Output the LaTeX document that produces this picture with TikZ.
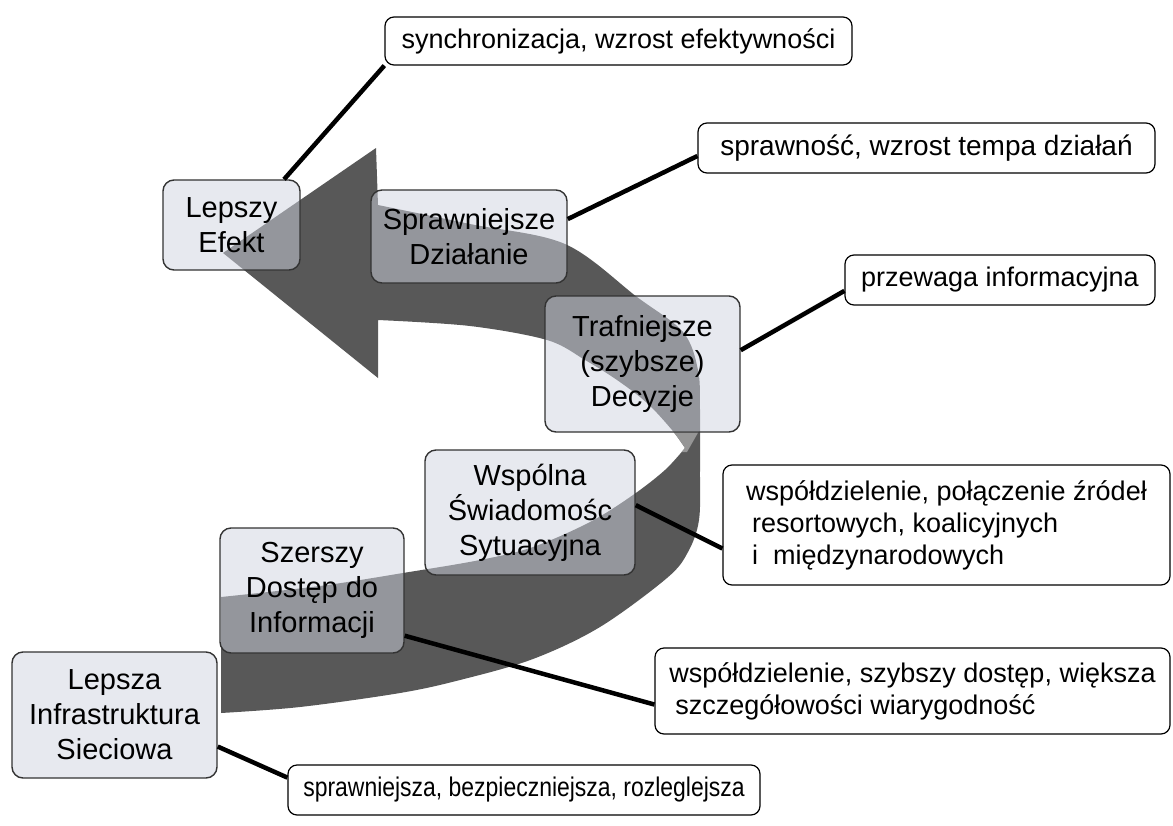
\documentclass[tikz,border=0pt]{standalone}
\usepackage{fontspec}
\setmainfont{Liberation Sans}
\newfontfamily\narrowsans[FakeStretch=0.85]{Liberation Sans}
\definecolor{bandgray}{RGB}{88,88,88}
\definecolor{facegray}{RGB}{150,150,150}
\definecolor{stagefill}{RGB}{209,213,225}
\newcommand\arrowoutline{(223,253) -- (376,148) -- (378,205)
  -- plot[smooth, tension=0.55] coordinates {(378,205) (470,224) (565,244) (637,297) (683,332) (698,370) (700,410) (700,470) (699,520) (688,552) (667,578) (600,627) (533,659) (460,680) (400,693) (300,707) (221,713)}
  -- (221,597)
  -- plot[smooth, tension=0.55] coordinates {(221,597) (320,586) (403,573) (480,560) (533,547) (590,522) (633,495) (665,470) (685,448)}
  -- plot[smooth, tension=0.55] coordinates {(685,448) (672,430) (647,403) (617,380) (585,360) (547,340) (470,326) (378,320)}
  -- (378,378) -- cycle}
\begin{document}
\begin{tikzpicture}[x=1pt, y=-1pt,
  stage/.style={draw=black!80, line width=1.4pt, rounded corners=11pt,
    fill=stagefill, fill opacity=0.5, text opacity=1, align=center,
    font=\fontsize{29}{35}\selectfont, inner sep=0pt},
  note/.style={draw=black, line width=1.2pt, rounded corners=9pt,
    fill=white, align=left, font=\fontsize{27}{32}\selectfont, inner sep=0pt},
  link/.style={line width=4.5pt, black}]
\useasboundingbox (0,0) rectangle (1173,825);
\fill[white] (0,0) rectangle (1173,825);

% curved ribbon arrow
\fill[bandgray] \arrowoutline;
\begin{scope}
  \clip \arrowoutline;
  \fill[facegray] (640,431) -- (699,431) -- (687,452) -- (640,452) -- cycle;
\end{scope}

% stages along the arrow
\node[stage, minimum width=137pt, minimum height=90pt] (le) at (231.5,225) {Lepszy\\Efekt};
\node[stage, minimum width=196pt, minimum height=93pt] (spr) at (469,236.5) {Sprawniejsze\\Działanie};
\node[stage, minimum width=195pt, minimum height=136pt] (tra) at (642.5,364) {Trafniejsze\\(szybsze)\\Decyzje};
\node[stage, minimum width=210pt, minimum height=125pt] (wsp) at (530,512.5) {Wspólna\\Świadomośc\\Sytuacyjna};
\node[stage, minimum width=184pt, minimum height=125pt] (sz) at (312,590.5) {Szerszy\\Dostęp do\\Informacji};
\node[stage, minimum width=205pt, minimum height=126pt] (li) at (114.5,715) {Lepsza\\Infrastruktura\\Sieciowa};

% descriptions
\node[note, minimum width=467pt, minimum height=48pt] (sync) at (618.5,41) {synchronizacja, wzrost efektywności};
\node[note, minimum width=457pt, minimum height=50pt] (spw) at (926.5,148) {\fontsize{28}{32}\selectfont sprawność, wzrost tempa działań};
\node[note, minimum width=310pt, minimum height=50pt] (prz) at (1000,280) {przewaga informacyjna};
\node[note, minimum width=447pt, minimum height=120pt] (wd) at (946.5,525) {współdzielenie, połączenie źródeł\\\hspace*{6pt}resortowych, koalicyjnych\\\hspace*{6pt}i~~międzynarodowych};
\node[note, minimum width=515pt, minimum height=86pt] (sd) at (912.5,691) {współdzielenie, szybszy dostęp, większa\\\hspace*{6pt}szczegółowości wiarygodność};
\node[note, minimum width=472pt, minimum height=50pt] (bot) at (524,790) {\narrowsans sprawniejsza, bezpieczniejsza, rozleglejsza};

% connectors
\draw[link] (le.41) -- (sync.186);
\draw[link] (spr.10) -- (spw.182);
\draw[link] (tra.8) -- (prz.184);
\draw[link] (wsp.4) -- (wd.186);
\draw[link] (sz.-26) -- (sd.183);
\draw[link] (li.-17) -- (bot.177);
\end{tikzpicture}
\end{document}
